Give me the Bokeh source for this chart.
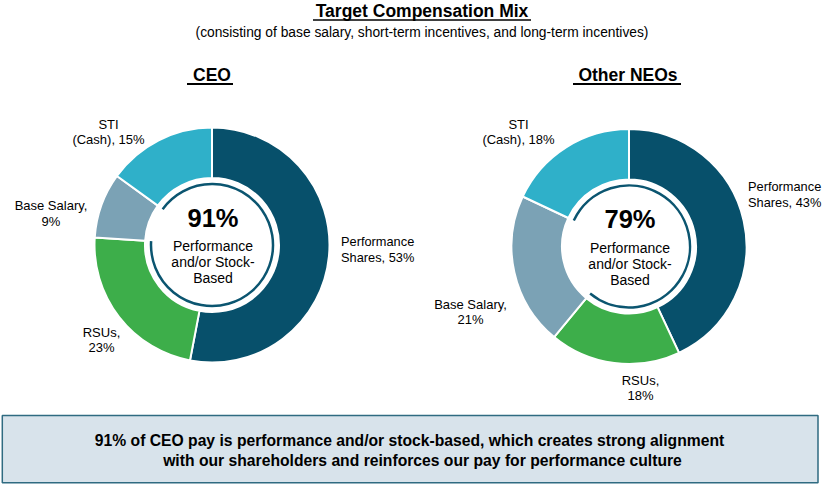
import math
from bokeh.plotting import figure
from bokeh.models import Range1d, ColumnDataSource
from bokeh.core.properties import value
from bokeh.embed import file_html
from bokeh.resources import INLINE

# ---------------- data ----------------
categories = ["Performance Shares", "RSUs", "Base Salary", "STI (Cash)"]
ceo_values = [53, 23, 9, 15]
neo_values = [43, 18, 21, 18]
colors = ["#07506B", "#3DAE4A", "#7BA2B5", "#2FB0C9"]
label_line1 = ["Performance", "RSUs,", "Base Salary,", "STI"]
label_prefix2 = ["Shares, ", "", "", "(Cash), "]
excluded_category = "Base Salary"

title = "Target Compensation Mix"
subtitle = "(consisting of base salary, short-term incentives, and long-term incentives)"
chart_titles = ["CEO", "Other NEOs"]
center_caption = ["Performance", "and/or Stock-", "Based"]
note_lines = [
    "91% of CEO pay is performance and/or stock-based, which creates strong alignment",
    "with our shareholders and reinforces our pay for performance culture",
]

FONT = "Liberation Sans"
W, H = 822.0, 484.0


def Y(ry):
    return H - ry


p = figure(width=822, height=484, x_range=Range1d(0, W), y_range=Range1d(0, H),
           output_backend="svg", toolbar_location=None, min_border=0,
           x_axis_type=None, y_axis_type=None)
p.grid.visible = False
p.outline_line_color = None
p.background_fill_color = "white"
p.border_fill_color = "white"


def txt(x, y, s, size, bold=False, align="center", color="#000000"):
    p.text(x=[x], y=[Y(y)], text=[s], text_font=value(FONT),
           text_font_size=f"{size}px", text_font_style="bold" if bold else "normal",
           text_align=align, text_baseline="middle", text_color=color)


def uline(x0, x1, y, w):
    p.segment(x0=[x0], y0=[Y(y)], x1=[x1], y1=[Y(y)], line_color="#000000", line_width=w)


# titles
txt(421.5, 10.5, title, 17.5, bold=True)
uline(312.5, 530.5, 19.5, 1.5)
txt(421.5, 31.5, subtitle, 13.8)

# layout for each donut
layouts = [
    dict(cx=211.5, cy=244.5, head_x=211.5, head_ul=(186.5, 232.5),
         anchors=[(340.5, 241.0, "left"), (101.0, 331.5, "center"),
                  (50.5, 205.0, "center"), (108.0, 123.5, "center")]),
    dict(cx=628.5, cy=246.0, head_x=627.5, head_ul=(572.5, 680.5),
         anchors=[(747.5, 186.0, "left"), (640.0, 379.5, "center"),
                  (470.0, 303.5, "center"), (518.0, 123.5, "center")]),
]
R_OUT, R_IN, R_RING = 117.5, 67.0, 61.0

for vals, lay, head in zip([ceo_values, neo_values], layouts, chart_titles):
    total = float(sum(vals))
    cum = 0.0
    starts, ends = [], []
    for v in vals:
        c0 = cum / total
        cum += v
        c1 = cum / total
        starts.append(math.pi / 2 - 2 * math.pi * c0)
        ends.append(math.pi / 2 - 2 * math.pi * c1)
    src = ColumnDataSource(dict(x=[lay["cx"]] * len(vals), y=[Y(lay["cy"])] * len(vals),
                                start=starts, end=ends, color=colors, cat=categories))
    p.annular_wedge(x="x", y="y", inner_radius=R_IN, outer_radius=R_OUT,
                    start_angle="start", end_angle="end", direction="clock",
                    fill_color="color", line_color="white", line_width=2, source=src)

    # ring around the center, excluding the non performance/stock segment
    bi = categories.index(excluded_category)
    p.arc(x=[lay["cx"]], y=[Y(lay["cy"])], radius=R_RING,
          start_angle=starts[bi], end_angle=ends[bi], direction="anticlock",
          line_color="#0B5570", line_width=2.5)

    pct = int(round(100 * (total - vals[bi]) / total))
    tx = lay["cx"] + 1
    txt(tx, lay["cy"] - 27.5, f"{pct}%", 25.5, bold=True)
    for k, line in enumerate(center_caption):
        txt(tx, lay["cy"] + 1 + 16 * k, line, 14)

    # outside labels
    for i, (ax, ay, al) in enumerate(lay["anchors"]):
        size = 12.8 if al == "left" else 13
        txt(ax, ay, label_line1[i], size, align=al)
        txt(ax, ay + 15.5, f"{label_prefix2[i]}{vals[i]}%", size, align=al)

    # chart heading
    txt(lay["head_x"], 74.0, head, 17.5, bold=True)
    uline(lay["head_ul"][0], lay["head_ul"][1], 83.5, 2)

# bottom note box
p.quad(left=[1.8], right=[817.5], top=[Y(415.0)], bottom=[Y(482.3)],
       fill_color="#D8E3EB", line_color="#2F6B81", line_width=1.5)
txt(409.0, 439.5, note_lines[0], 15.7, bold=True)
txt(422.0, 460.0, note_lines[1], 15.7, bold=True)

open("out.html", "w").write(file_html(p, INLINE))
